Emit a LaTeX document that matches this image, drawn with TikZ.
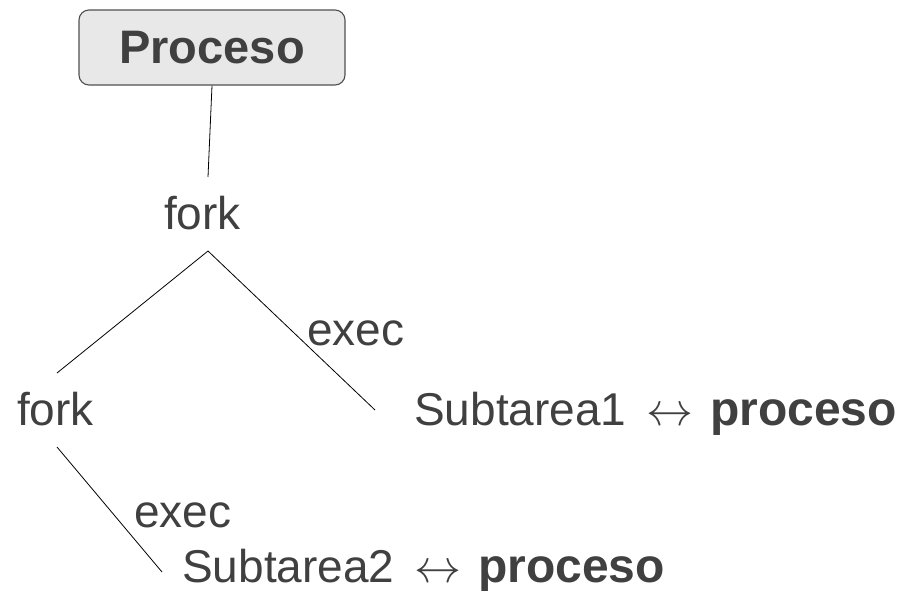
\documentclass[tikz,border=0pt]{standalone}
\usepackage{fontspec}
\setmainfont{Liberation Sans}
\definecolor{txt}{HTML}{404040}
\definecolor{boxfill}{HTML}{E8E8E8}
\definecolor{boxline}{HTML}{505050}
\newcommand{\lrarrow}{\hspace{7pt}\scalebox{4.7}{\fontsize{10}{12}\selectfont$\leftrightarrow$}\hspace{4pt}}
\newcommand{\boldword}[1]{{\fontsize{48}{55}\selectfont\bfseries #1}}
\begin{document}
\begin{tikzpicture}[x=1pt,y=-1pt,
  lbl/.style={anchor=base west,inner sep=0pt,text=txt,font=\fontsize{46}{55}\selectfont},
  procbox/.style={draw=boxline,fill=boxfill,line width=1.1pt,rounded corners=10pt,
    minimum width=266pt,minimum height=75pt,inner sep=0pt,text=txt,
    font=\fontsize{47}{56}\selectfont\bfseries},
  conn/.style={draw=black,line width=0.8pt}]
\useasboundingbox (0,0) rectangle (898,590);
\node[procbox] (proc) at (212,47.5) {Proceso};
\node[lbl] (fork1) at (164,229) {fork};
\node[lbl] (fork2) at (17,425) {fork};
\node[lbl] (exec1) at (307,345) {exec};
\node[lbl] (sub1) at (414,425) {Subtarea1 \lrarrow{} \boldword{proceso}};
\node[lbl] (exec2) at (134,527) {exec};
\node[lbl] (sub2) at (182,582) {Subtarea2 \lrarrow{} \boldword{proceso}};
\coordinate (f1in) at (208,177);
\coordinate (f1out) at (208,251);
\coordinate (f2in) at (57,373);
\coordinate (s1in) at (375,410);
\coordinate (f2out) at (57,447);
\coordinate (s2in) at (162,572);
\draw[conn] (proc.south) -- (f1in);
\draw[conn] (f1out) -- (f2in);
\draw[conn] (f1out) -- (s1in);
\draw[conn] (f2out) -- (s2in);
\end{tikzpicture}
\end{document}
